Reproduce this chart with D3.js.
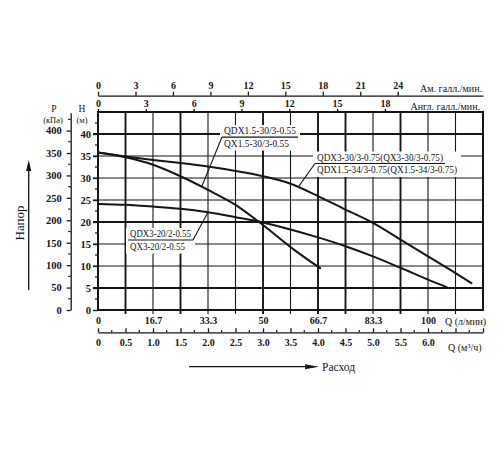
<!DOCTYPE html>
<html>
<head>
<meta charset="utf-8">
<script src="https://cdn.jsdelivr.net/npm/d3@7"></script>
<style>
  body { margin: 0; background: #fff; }
  svg { font-family: "Liberation Serif", "DejaVu Serif", serif; }
</style>
</head>
<body>
<svg id="chart" width="500" height="450"></svg>
<script>
/* ---------- data: Q in m3/h, H in m ---------- */
const curveA_q = [0, 0.5, 1.0, 1.5, 2.0, 2.5, 3.0, 3.5, 4.04];
const curveA_h = [35.8, 34.7, 33.0, 30.4, 27.3, 23.9, 19.3, 14.3, 9.5];

const curveB_q = [0, 0.5, 1.0, 1.5, 2.0, 2.5, 3.0, 3.5, 4.0, 4.5, 5.0, 5.5, 6.0, 6.5, 6.79];
const curveB_h = [35.8, 34.9, 34.1, 33.4, 32.6, 31.6, 30.4, 28.7, 25.9, 22.8, 19.8, 16.0, 12.2, 8.4, 6.1];

const curveC_q = [0, 0.5, 1.0, 1.5, 2.0, 2.5, 3.0, 3.5, 4.0, 4.5, 5.0, 5.5, 6.0, 6.34];
const curveC_h = [24.1, 23.9, 23.5, 23.0, 22.2, 21.1, 19.9, 18.3, 16.5, 14.5, 12.2, 9.6, 6.9, 5.2];

const curveA_text = ["QDX1.5-30/3-0.55", "QX1.5-30/3-0.55"];
const curveB_text = ["QDX3-30/3-0.75(QX3-30/3-0.75)", "QDX1.5-34/3-0.75(QX1.5-34/3-0.75)"];
const curveC_text = ["QDX3-20/2-0.55", "QX3-20/2-0.55"];

/* ---------- tick values ---------- */
const hTicks = [0, 5, 10, 15, 20, 25, 30, 35, 40];
const pTicks = [0, 50, 100, 150, 200, 250, 300, 350, 400];
const lpmTicks = [0, 16.7, 33.3, 50, 66.7, 83.3, 100];
const m3hTicks = [0, 0.5, 1.0, 1.5, 2.0, 2.5, 3.0, 3.5, 4.0, 4.5, 5.0, 5.5, 6.0];
const usGalTicks = [0, 3, 6, 9, 12, 15, 18, 21, 24];
const impGalTicks = [0, 3, 6, 9, 12, 15, 18];
const vGridBold = [0.5, 1.5, 3.0, 4.0, 4.5, 5.5];
const hGridBold = [5, 20, 40];

/* unit conversions as drawn on the chart */
const LPM_PER_M3H = 1000 / 60;
const LPM_PER_USGAL = 3.785;
const LPM_PER_IMPGAL = 4.83;
const KPA_PER_M = 9.81;

/* ---------- scales ---------- */
const ink = "#151515";
const svg = d3.select("#chart");
const x = d3.scaleLinear().domain([0, 7]).range([98, 483]);
const y = d3.scaleLinear().domain([0, 45]).range([310, 112]);
const xL = d3.scaleLinear().domain([0, 7 * LPM_PER_M3H]).range(x.range());
const xUS = d3.scaleLinear().domain([0, 7 * LPM_PER_M3H / LPM_PER_USGAL]).range(x.range());
const xImp = d3.scaleLinear().domain([0, 7 * LPM_PER_M3H / LPM_PER_IMPGAL]).range(x.range());
const pMax = 440;
const yP = d3.scaleLinear().domain([0, pMax]).range([y(0), y(pMax / KPA_PER_M)]);

/* ---------- grid ---------- */
const grid = svg.append("g").attr("stroke", ink);
grid.selectAll("line.v")
  .data(d3.range(0.5, 7, 0.5))
  .join("line")
  .attr("x1", (d) => x(d)).attr("x2", (d) => x(d))
  .attr("y1", y(45)).attr("y2", y(0) + 4)
  .attr("stroke-width", (d) => (vGridBold.includes(d) ? 1.9 : 1.1));
grid.selectAll("line.h")
  .data(d3.range(5, 45, 5))
  .join("line")
  .attr("x1", x(0) - 5).attr("x2", x(7))
  .attr("y1", (d) => y(d)).attr("y2", (d) => y(d))
  .attr("stroke-width", (d) => (hGridBold.includes(d) ? 1.9 : 1.1));

svg.append("rect")
  .attr("x", x(0)).attr("y", y(45))
  .attr("width", x(7) - x(0)).attr("height", y(0) - y(45))
  .attr("fill", "none").attr("stroke", ink).attr("stroke-width", 2);

/* ---------- axes ---------- */
function styleAxis(g, bold) {
  g.selectAll("path.domain").attr("stroke", ink).attr("stroke-width", 1.3);
  g.selectAll(".tick line").attr("stroke", ink).attr("stroke-width", 1.3);
  g.selectAll("text")
    .attr("fill", ink)
    .attr("font-family", "Liberation Serif, serif")
    .attr("font-weight", bold ? "bold" : "normal");
  g.attr("font-size", 10.5);
}

// H (m) on the frame
const hAxis = svg.append("g")
  .attr("transform", `translate(${x(0)},0)`)
  .call(d3.axisLeft(y).tickValues(hTicks).tickSize(5).tickPadding(2).tickSizeOuter(0));
hAxis.select("path.domain").remove();
styleAxis(hAxis, true);
svg.append("g").selectAll("line")
  .data(d3.range(2.5, 45, 5))
  .join("line")
  .attr("x1", x(0) - 3).attr("x2", x(0))
  .attr("y1", (d) => y(d)).attr("y2", (d) => y(d))
  .attr("stroke", ink).attr("stroke-width", 1.2);

// P (kPa)
const pAxis = svg.append("g")
  .attr("transform", "translate(70.7,0)")
  .call(d3.axisLeft(yP).tickValues(pTicks).tickSize(4).tickPadding(5).tickSizeOuter(0));
styleAxis(pAxis, true);
svg.append("g").selectAll("line")
  .data(d3.range(25, pMax, 50))
  .join("line")
  .attr("x1", 70.7 - 2.5).attr("x2", 70.7)
  .attr("y1", (d) => yP(d)).attr("y2", (d) => yP(d))
  .attr("stroke", ink).attr("stroke-width", 1.2);

// US gallons / min (top)
const usAxis = svg.append("g")
  .attr("transform", "translate(0,95.7)")
  .call(d3.axisTop(xUS).tickValues(usGalTicks).tickSize(4).tickPadding(3).tickSizeOuter(0));
styleAxis(usAxis, true);
usAxis.attr("font-size", 10);

// Imperial gallons / min (on the frame top)
const impAxis = svg.append("g")
  .attr("transform", `translate(0,${y(45)})`)
  .call(d3.axisTop(xImp).tickValues(impGalTicks).tickSize(3).tickPadding(2).tickSizeOuter(0));
impAxis.select("path.domain").remove();
styleAxis(impAxis, true);
impAxis.attr("font-size", 10);

// l/min (under the frame)
const lAxis = svg.append("g")
  .attr("transform", `translate(0,${y(0)})`)
  .call(d3.axisBottom(xL).tickValues(lpmTicks).tickSize(0).tickPadding(7)
    .tickFormat((d) => (d === 0 ? "0" : String(d))));
lAxis.select("path.domain").remove();
styleAxis(lAxis, true);
lAxis.attr("font-size", 10);

// m3/h
const qAxis = svg.append("g")
  .attr("transform", "translate(0,332.3)")
  .call(d3.axisBottom(x).tickValues(d3.range(0, 7.01, 0.5)).tickSize(-4).tickPadding(7)
    .tickSizeOuter(0)
    .tickFormat((d) => (m3hTicks.includes(d) ? (d === 0 ? "0" : d3.format(".1f")(d)) : "")));
styleAxis(qAxis, true);
qAxis.attr("font-size", 10);
svg.append("g").selectAll("line")
  .data(d3.range(0.25, 7, 0.5))
  .join("line")
  .attr("x1", (d) => x(d)).attr("x2", (d) => x(d))
  .attr("y1", 332.3 - 2.2).attr("y2", 332.3)
  .attr("stroke", ink).attr("stroke-width", 1.2);

/* ---------- axis titles ---------- */
const titles = svg.append("g").attr("fill", ink);
titles.append("text").attr("x", 482).attr("y", 92.3).attr("text-anchor", "end")
  .attr("font-size", 10).text("Ам. галл./мин.");
titles.append("text").attr("x", 480).attr("y", 109.5).attr("text-anchor", "end")
  .attr("font-size", 10).text("Англ. галл./мин.");
titles.append("text").attr("x", 54).attr("y", 111.5).attr("text-anchor", "middle")
  .attr("font-size", 9.5).text("P");
titles.append("text").attr("x", 53).attr("y", 123).attr("text-anchor", "middle")
  .attr("font-size", 8.5).text("(кПа)");
titles.append("text").attr("x", 82).attr("y", 111.5).attr("text-anchor", "middle")
  .attr("font-size", 9.5).text("H");
titles.append("text").attr("x", 82).attr("y", 123).attr("text-anchor", "middle")
  .attr("font-size", 8.5).text("(м)");
titles.append("text").attr("x", 445).attr("y", 325).attr("font-size", 10).text("Q (л/мин)");
titles.append("text").attr("x", 448).attr("y", 351).attr("font-size", 10).text("Q (м³/ч)");

// Напор arrow
titles.append("text")
  .attr("transform", "translate(23.5,223) rotate(-90)")
  .attr("text-anchor", "middle").attr("font-size", 13).text("Напор");
titles.append("line").attr("x1", 28.7).attr("x2", 28.7).attr("y1", 290).attr("y2", 168)
  .attr("stroke", ink).attr("stroke-width", 1.3);
titles.append("path").attr("d", "M28.7,160 L31.3,171 L26.1,171 Z");

// Расход arrow
titles.append("line").attr("x1", 189).attr("x2", 308).attr("y1", 366.7).attr("y2", 366.7)
  .attr("stroke", ink).attr("stroke-width", 1.3);
titles.append("path").attr("d", "M319,366.7 L305,364.2 L305,369.2 Z");
titles.append("text").attr("x", 322).attr("y", 370.5).attr("font-size", 11.5).text("Расход");

/* ---------- curves ---------- */
const series = [
  { q: curveA_q, h: curveA_h },
  { q: curveB_q, h: curveB_h },
  { q: curveC_q, h: curveC_h },
];
const line = d3.line()
  .x((d) => x(d[0]))
  .y((d) => y(d[1]))
  .curve(d3.curveMonotoneX);
svg.append("g").selectAll("path")
  .data(series)
  .join("path")
  .attr("d", (s) => line(d3.zip(s.q, s.h)))
  .attr("fill", "none").attr("stroke", ink).attr("stroke-width", 2)
  .attr("stroke-linecap", "round");

/* ---------- curve labels ---------- */
function hAt(s, q) {
  const i = Math.max(1, d3.bisectLeft(s.q, q));
  const t = (q - s.q[i - 1]) / (s.q[i] - s.q[i - 1]);
  return s.h[i - 1] + t * (s.h[i] - s.h[i - 1]);
}

const labelSpecs = [
  { text: curveA_text, widths: [72, 65], q: 2.255, h: 39.3, lead: "left", leadQ: 1.885, s: series[0] },
  { text: curveB_text, widths: [126, 140], q: 3.945, h: 33.3, lead: "left", leadQ: 3.64, s: series[1] },
  { text: curveC_text, widths: [61, 55], q: 0.545, h: 15.9, lead: "right", leadQ: 2.0, s: series[2] },
];

labelSpecs.forEach((L) => {
  const g = svg.append("g");
  const ux = x(L.q);
  const uy = y(L.h);
  const tx = ux + 2;
  const ulen = L.widths[0] + 4;
  const boxW = Math.max(...L.widths) + 8;
  g.append("rect")
    .attr("x", ux - 2).attr("y", uy - 12)
    .attr("width", boxW).attr("height", 25.5)
    .attr("fill", "#fff");
  L.text.forEach((t, i) => {
    g.append("text")
      .attr("x", tx).attr("y", i === 0 ? uy - 2.8 : uy + 9.8)
      .attr("font-size", 9.5).attr("fill", ink)
      .attr("textLength", L.widths[i]).attr("lengthAdjust", "spacingAndGlyphs")
      .text(t);
  });
  g.append("line")
    .attr("x1", ux).attr("x2", ux + ulen).attr("y1", uy).attr("y2", uy)
    .attr("stroke", ink).attr("stroke-width", 1.1);
  const sx = L.lead === "left" ? ux : ux + ulen;
  g.append("line")
    .attr("x1", sx).attr("y1", uy)
    .attr("x2", x(L.leadQ)).attr("y2", y(hAt(L.s, L.leadQ)))
    .attr("stroke", ink).attr("stroke-width", 1.1);
});
</script>
</body>
</html>
